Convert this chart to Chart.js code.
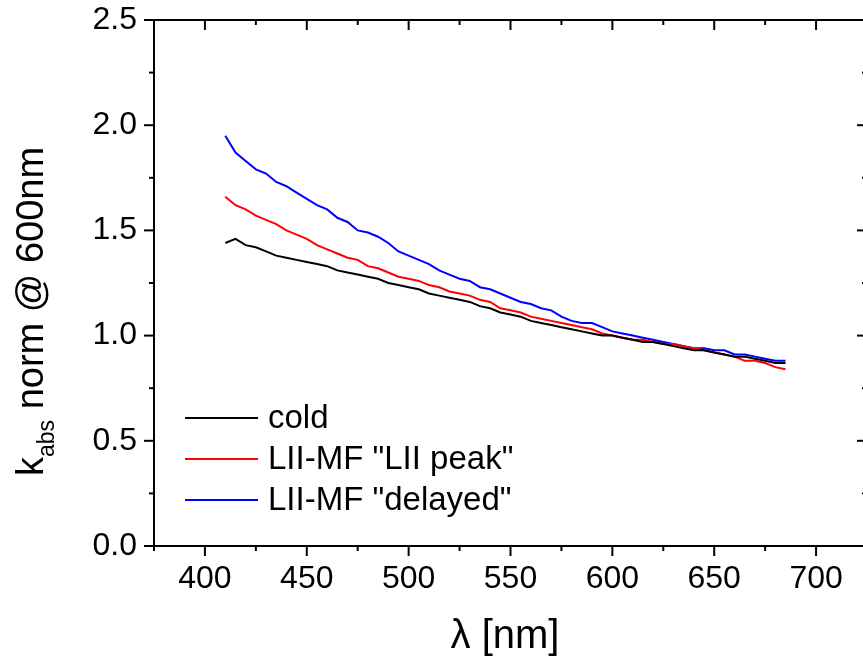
<!DOCTYPE html>
<html>
<head>
<meta charset="utf-8">
<script src="https://cdn.jsdelivr.net/npm/chart.js@4/dist/chart.umd.min.js"></script>
<style>
  html, body { margin: 0; padding: 0; overflow: hidden; background: #fff; }
  #wrap { width: 880px; height: 660px; }
</style>
</head>
<body>
<div id="wrap"><canvas id="c" width="880" height="660"></canvas></div>
<script>
// ---- data ----
const wavelengths = [410,415,420,425,430,435,440,445,450,455,460,465,470,475,480,485,490,495,500,505,
  510,515,520,525,530,535,540,545,550,555,560,565,570,575,580,585,590,595,600,605,
  610,615,620,625,630,635,640,645,650,655,660,665,670,675,680,685];
const coldValues = [1.44,1.46,1.43,1.42,1.40,1.38,1.37,1.36,1.35,1.34,1.33,1.31,1.30,1.29,1.28,1.27,1.25,1.24,1.23,1.22,
  1.20,1.19,1.18,1.17,1.16,1.14,1.13,1.11,1.10,1.09,1.07,1.06,1.05,1.04,1.03,1.02,1.01,1.00,1.00,0.99,
  0.98,0.97,0.97,0.96,0.95,0.94,0.93,0.93,0.92,0.91,0.90,0.90,0.89,0.88,0.87,0.87];
const peakValues = [1.66,1.62,1.60,1.57,1.55,1.53,1.50,1.48,1.46,1.43,1.41,1.39,1.37,1.36,1.33,1.32,1.30,1.28,1.27,1.26,
  1.24,1.23,1.21,1.20,1.19,1.17,1.16,1.13,1.12,1.11,1.09,1.08,1.07,1.06,1.05,1.04,1.03,1.01,1.00,0.99,
  0.98,0.98,0.97,0.96,0.96,0.95,0.94,0.93,0.92,0.91,0.90,0.88,0.88,0.87,0.85,0.84];
const delayedValues = [1.95,1.87,1.83,1.79,1.77,1.73,1.71,1.68,1.65,1.62,1.60,1.56,1.54,1.50,1.49,1.47,1.44,1.40,1.38,1.36,
  1.34,1.31,1.29,1.27,1.26,1.23,1.22,1.20,1.18,1.16,1.15,1.13,1.12,1.09,1.07,1.06,1.06,1.04,1.02,1.01,
  1.00,0.99,0.98,0.97,0.96,0.95,0.94,0.94,0.93,0.93,0.91,0.91,0.90,0.89,0.88,0.88];
const seriesLabels = ['cold', 'LII-MF "LII peak"', 'LII-MF "delayed"'];
const seriesColors = ['#000000', '#ff0000', '#0000ff'];
const xMajorTicks = [400,450,500,550,600,650,700];
const xMinorTicks = [375,425,475,525,575,625,675,725];
const yMajorTicks = [0.0,0.5,1.0,1.5,2.0,2.5];
const yMinorTicks = [0.25,0.75,1.25,1.75,2.25];
const xTitle = 'λ [nm]';
const yTitleMain = 'k';
const yTitleSub = 'abs';
const yTitleRest = ' norm @ 600nm';

const FONT = '"Liberation Sans", Arial, sans-serif';
const allSeries = [coldValues, peakValues, delayedValues];
const datasets = allSeries.map((vals, i) => ({
  label: seriesLabels[i],
  data: wavelengths.map((w, k) => ({ x: w, y: vals[k] })),
  borderColor: seriesColors[i],
  borderWidth: 2,
  pointRadius: 0,
  tension: 0,
  fill: false
}));

const framePlugin = {
  id: 'frame',
  afterDraw(chart) {
    const ctx = chart.ctx;
    const a = chart.chartArea;
    const xs = chart.scales.x, ys = chart.scales.y;
    ctx.save();
    ctx.strokeStyle = '#000';
    ctx.lineWidth = 2;
    ctx.lineCap = 'butt';
    // frame
    ctx.beginPath();
    ctx.moveTo(a.left, a.top); ctx.lineTo(a.right, a.top);
    ctx.lineTo(a.right, a.bottom); ctx.lineTo(a.left, a.bottom);
    ctx.closePath();
    ctx.stroke();
    // x ticks
    const tickX = (v, len) => {
      const p = xs.getPixelForValue(v);
      ctx.beginPath(); ctx.moveTo(p, a.bottom); ctx.lineTo(p, a.bottom + len); ctx.stroke();
      ctx.beginPath(); ctx.moveTo(p, a.top); ctx.lineTo(p, a.top + len); ctx.stroke();
    };
    xMajorTicks.forEach(v => tickX(v, 10));
    xMinorTicks.forEach(v => tickX(v, 5));
    const tickY = (v, len) => {
      const p = ys.getPixelForValue(v);
      ctx.beginPath(); ctx.moveTo(a.left, p); ctx.lineTo(a.left - len, p); ctx.stroke();
      ctx.beginPath(); ctx.moveTo(a.right, p); ctx.lineTo(a.right - len, p); ctx.stroke();
    };
    yMajorTicks.forEach(v => tickY(v, 10));
    yMinorTicks.forEach(v => tickY(v, 5));

    // legend
    ctx.font = '33px ' + FONT;
    ctx.textBaseline = 'middle';
    ctx.textAlign = 'left';
    chart.data.datasets.forEach((ds, i) => {
      const y = a.top + 398 + 41 * i;
      ctx.strokeStyle = ds.borderColor;
      ctx.lineWidth = 2;
      ctx.beginPath(); ctx.moveTo(a.left + 31, y); ctx.lineTo(a.left + 104, y); ctx.stroke();
      ctx.fillStyle = '#000';
      ctx.fillText(ds.label, a.left + 114, y + 1);
    });

    // x title
    ctx.fillStyle = '#000';
    ctx.font = '40px ' + FONT;
    ctx.textAlign = 'center';
    ctx.textBaseline = 'alphabetic';
    ctx.fillText(xTitle, 505, 648);

    // y title (rotated)
    ctx.translate(43, 476);
    ctx.rotate(-Math.PI / 2);
    ctx.textAlign = 'left';
    ctx.font = '38px ' + FONT;
    ctx.fillText(yTitleMain, 0, 0);
    let off = ctx.measureText(yTitleMain).width;
    ctx.font = '23px ' + FONT;
    ctx.fillText(yTitleSub, off, 11);
    off += ctx.measureText(yTitleSub).width;
    ctx.font = '38px ' + FONT;
    ctx.fillText(yTitleRest, off, 0);
    ctx.restore();
  }
};

new Chart(document.getElementById('c'), {
  type: 'line',
  data: { datasets },
  options: {
    responsive: false,
    animation: false,
    layout: { padding: { left: 0, top: 20, right: 13, bottom: 0 } },
    plugins: { legend: { display: false }, tooltip: { enabled: false } },
    scales: {
      x: {
        type: 'linear', min: 375, max: 725,
        afterFit: s => { s.height = 114; s.paddingLeft = 0; s.paddingRight = 0; },
        afterBuildTicks: s => { s.ticks = xMajorTicks.map(v => ({ value: v })); },
        grid: { display: false, drawTicks: false },
        border: { display: false },
        ticks: { font: { size: 32, family: FONT }, color: '#000', padding: 14, maxRotation: 0 }
      },
      y: {
        type: 'linear', min: 0, max: 2.5,
        afterFit: s => { s.width = 154; s.paddingTop = 0; s.paddingBottom = 0; },
        afterBuildTicks: s => { s.ticks = yMajorTicks.map(v => ({ value: v })); },
        grid: { display: false, drawTicks: false },
        border: { display: false },
        ticks: { font: { size: 32, family: FONT }, color: '#000', padding: 17,
          callback: v => v.toFixed(1) }
      }
    }
  },
  plugins: [framePlugin]
});
</script>
</body>
</html>
